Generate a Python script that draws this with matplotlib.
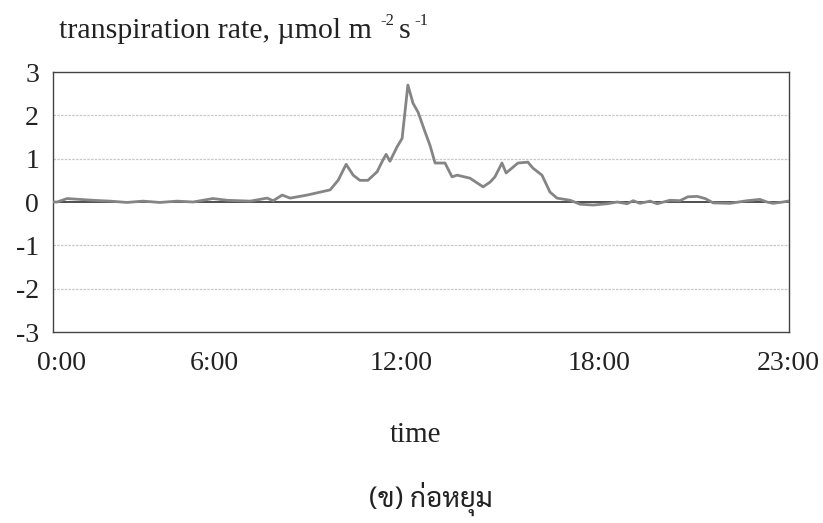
import matplotlib
matplotlib.use("Agg")
from matplotlib import pyplot as plt
from matplotlib import font_manager

# trace (hour of day, transpiration rate)
hours = [0.0, 0.13, 0.44, 0.84, 1.25, 1.78, 2.31, 2.81, 3.34, 3.88, 4.38, 5.0, 5.44, 6.16,
         6.69, 6.88, 7.16, 7.41, 7.94, 8.66, 8.91, 9.16, 9.38, 9.59, 9.84, 10.13, 10.31,
         10.41, 10.53, 10.75, 10.91, 11.09, 11.25, 11.41, 11.63, 11.78, 11.94, 12.25,
         12.47, 12.63, 13.03, 13.44, 13.66, 13.81, 14.03, 14.16, 14.53, 14.84, 15.0,
         15.28, 15.53, 15.75, 16.16, 16.47, 16.88, 17.31, 17.63, 17.94, 18.13, 18.34,
         18.66, 18.88, 19.28, 19.59, 19.84, 20.13, 20.38, 20.63, 21.16, 21.69, 22.09,
         22.31, 22.5, 22.81, 22.97]
rate = [0.0, 0.0, 0.08, 0.06, 0.04, 0.02, -0.01, 0.02, -0.01, 0.02, 0.0, 0.08, 0.04, 0.02,
        0.09, 0.03, 0.16, 0.09, 0.16, 0.28, 0.5, 0.87, 0.62, 0.5, 0.5, 0.7, 0.97,
        1.1, 0.94, 1.27, 1.47, 2.7, 2.28, 2.07, 1.61, 1.31, 0.9, 0.9,
        0.58, 0.62, 0.55, 0.35, 0.46, 0.58, 0.9, 0.67, 0.9, 0.92, 0.78,
        0.62, 0.23, 0.09, 0.04, -0.05, -0.07, -0.04, 0.0, -0.04, 0.03, -0.03,
        0.02, -0.04, 0.04, 0.03, 0.12, 0.13, 0.08, -0.02, -0.03, 0.03, 0.06,
        0.0, -0.03, 0.0, 0.02]

tick_pos = [0.25, 5.03, 10.88, 17.06, 22.97]
tick_lab = ["0:00", "6:00", "12:00", "18:00", "23:00"]
yticks = [-3, -2, -1, 0, 1, 2, 3]

plt.rcParams["font.family"] = ["Liberation Serif", "DejaVu Serif"]

installed = {f.name for f in font_manager.fontManager.ttflist}
thai_font = "DejaVu Sans"
for name in ["Sarabun", "Laksaman", "Kinnari", "Norasi", "Loma", "Garuda"]:
    if name in installed:
        thai_font = name
        break

fig = plt.figure(figsize=(8.23, 5.23), dpi=100)
ax = fig.add_axes([0.0644, 0.3652, 0.8943, 0.4971])

for y in [-2, -1, 1, 2]:
    ax.axhline(y, color="#c8c8c8", lw=0.9, ls=(0, (2, 1)), zorder=1)
ax.axhline(0, color="#303030", lw=1.2, zorder=2)
ax.plot(hours, rate, color="#858585", lw=2.0, zorder=3)

ax.set_xlim(0, 23)
ax.set_ylim(-3, 3)
ax.set_yticks(yticks)
ax.set_yticklabels([str(v) for v in yticks])
ax.set_xticks(tick_pos)
ax.set_xticklabels(tick_lab)
ax.tick_params(length=0, labelsize=20, colors="#222222")
ax.tick_params(axis="x", pad=14)
ax.tick_params(axis="y", pad=10)
for s in ax.spines.values():
    s.set_color("#444444")
    s.set_linewidth(1.0)

# y-axis title with small raised exponents, Excel style
t1 = fig.text(0.0717, 0.927, "transpiration rate, µmol m", fontsize=21.5,
              color="#222222", va="baseline")
t2 = ax.annotate("-2", xy=(1, 1), xycoords=t1, xytext=(6, 4), textcoords="offset points",
                 fontsize=12, va="top", ha="left", color="#222222", annotation_clip=False)
t3 = ax.annotate("s", xy=(1, 0), xycoords=(t2, t1), xytext=(3, 0),
                 textcoords="offset points", fontsize=21.5, va="bottom", ha="left",
                 color="#222222", annotation_clip=False)
ax.annotate("-1", xy=(1, 1), xycoords=(t3, t1), xytext=(3, 4), textcoords="offset points",
            fontsize=12, va="top", ha="left", color="#222222", annotation_clip=False)

fig.text(0.505, 0.155, "time", fontsize=21, ha="center", color="#222222")
fig.text(0.523, 0.03, "(ข) ก่อหยุม", fontsize=20, ha="center", color="#222222",
         family=[thai_font, "DejaVu Sans"])

fig.savefig("out.png", dpi=100)
